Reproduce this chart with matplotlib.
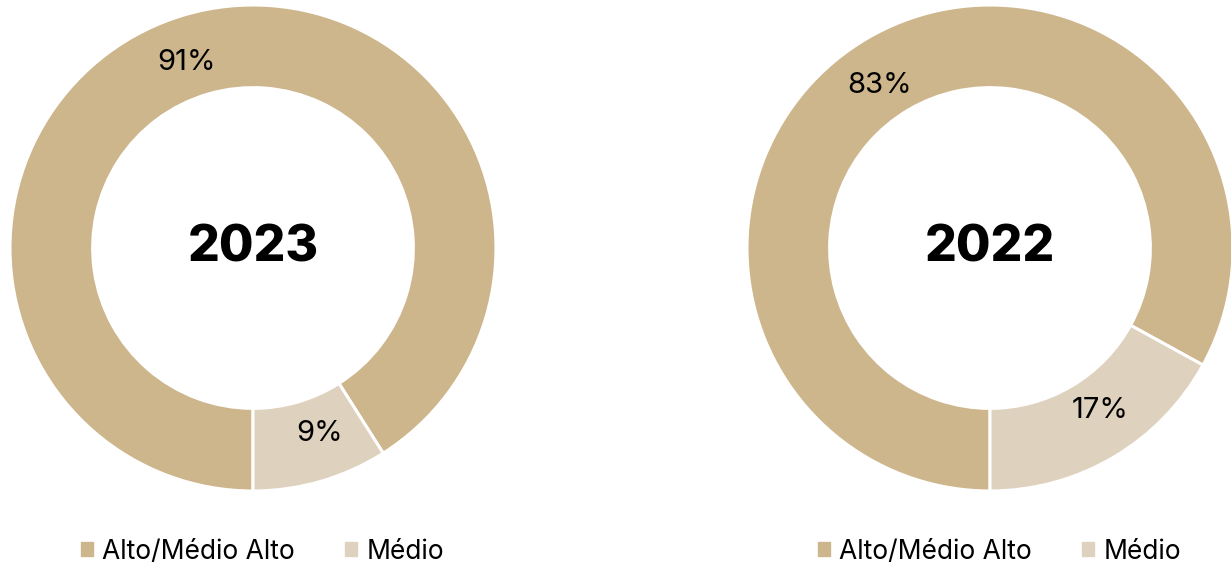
import numpy as np
import matplotlib.pyplot as plt
from matplotlib.patches import Patch

# Data
categories = ['Alto/Médio Alto', 'Médio']
years = ['2023', '2022']
shares = {'2023': [91, 9], '2022': [83, 17]}
colors = ['#CDB58C', '#DED1BE']

plt.rcParams['font.family'] = ['Inter', 'DejaVu Sans']

W, H = 1231, 566
fig = plt.figure(figsize=(W/100, H/100), dpi=100)

# donut centres in pixels (x, y from top) and outer radius
centres = {'2023': (253, 248), '2022': (990, 248)}
R = 243

for yr in years:
    cx, cy = centres[yr]
    ax = fig.add_axes([(cx - R)/W, (H - cy - R)/H, 2*R/W, 2*R/H])
    vals = shares[yr]
    # small slice starts at 6 o'clock and runs counter-clockwise
    start = 270 + 360*vals[1]/sum(vals)
    wedges, texts, autotexts = ax.pie(vals, colors=colors, startangle=start, counterclock=True,
                                      radius=1, autopct='%d%%', pctdistance=0.81,
                                      wedgeprops=dict(width=0.34, edgecolor='white', linewidth=2.2),
                                      textprops=dict(fontsize=21, color='black'))
    # labels sit a little further round than the wedge middle
    for w, t in zip(wedges, autotexts):
        a = np.deg2rad((w.theta1 + w.theta2)/2 + 3.5)
        t.set_position((0.81*np.cos(a), 0.81*np.sin(a)))
    ax.set_xlim(-1, 1)
    ax.set_ylim(-1, 1)
    ax.set_aspect('equal')
    ax.text(0, 0, yr, ha='center', va='center', fontsize=36, fontweight='heavy')

    handles = [Patch(color=c) for c in colors]
    ax.legend(handles, categories, loc='center', bbox_to_anchor=(0.52, -0.125), ncol=2,
              frameon=False, handlelength=0.45, handleheight=0.45,
              handletextpad=0.35, columnspacing=1.9,
              prop=dict(size=19))

fig.savefig('out.png', dpi=100)
